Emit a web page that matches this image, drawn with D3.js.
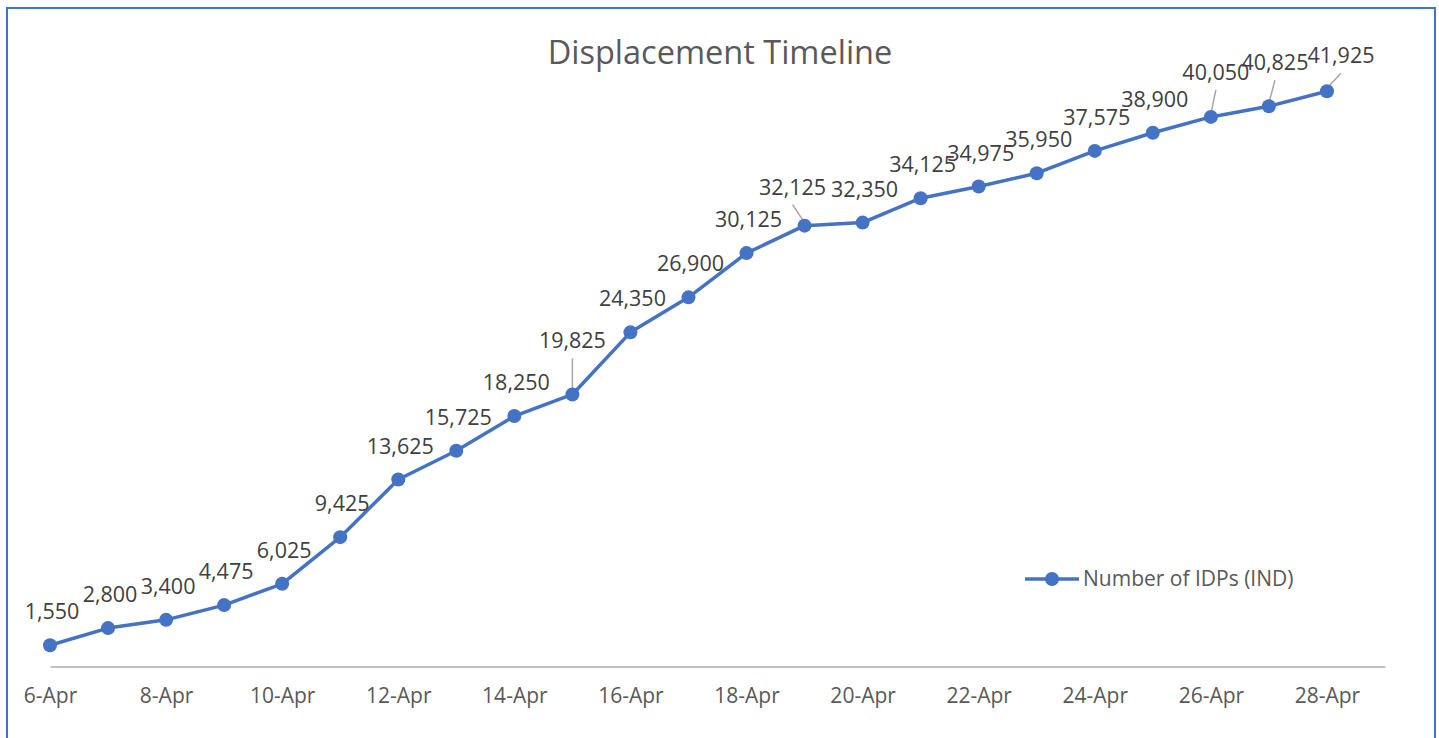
<!DOCTYPE html>
<html>
<head>
<meta charset="utf-8">
<title>Displacement Timeline</title>
<script src="https://d3js.org/d3.v7.min.js"></script>
<style>
body{margin:0; background:#fff;}
svg{display:block; font-family:"Open Sans", sans-serif;}
</style>
</head>
<body>
<script>
// data
var days = ["6-Apr","7-Apr","8-Apr","9-Apr","10-Apr","11-Apr","12-Apr","13-Apr","14-Apr","15-Apr","16-Apr","17-Apr",
            "18-Apr","19-Apr","20-Apr","21-Apr","22-Apr","23-Apr","24-Apr","25-Apr","26-Apr","27-Apr","28-Apr"];
var idps = [1550,2800,3400,4475,6025,9425,13625,15725,18250,19825,24350,26900,
            30125,32125,32350,34125,34975,35950,37575,38900,40050,40825,41925];
var tickLabels = ["6-Apr","8-Apr","10-Apr","12-Apr","14-Apr","16-Apr","18-Apr","20-Apr","22-Apr","24-Apr","26-Apr","28-Apr"];
var seriesName = "Number of IDPs (IND)";

// labels that were dragged away from their point (index: [dx, dy])
var moved = {9:[0,-53], 13:[-12,-38], 20:[5,-44], 21:[6,-43], 22:[14,-35]};

var width = 1439, height = 738;
var blue = "#4472C4";

var svg = d3.select("body").append("svg").attr("width", width).attr("height", height);

// chart border
svg.append("rect").attr("x",7).attr("y",8).attr("width",1428).attr("height",760)
  .attr("fill","none").attr("stroke",blue).attr("stroke-width",2);

var parse = d3.timeParse("%d-%b-%Y");
var dates = days.map(function(d){ return parse(d+"-2020"); });

var x = d3.scaleTime()
  .domain([dates[0], d3.timeDay.offset(dates[dates.length-1], 1)])
  .range([50, 1385]);
var y = d3.scaleLinear().domain([0, 45000]).range([666.5, 49]);

// title
svg.append("text").attr("x",720).attr("y",64).attr("text-anchor","middle")
  .attr("font-size",32.5).attr("fill","#595959").text("Displacement Timeline");

// x axis
var tickDates = tickLabels.map(function(d){ return parse(d+"-2020"); });
var xAxis = svg.append("g").attr("transform","translate(0,666.5)")
  .call(d3.axisBottom(x).tickValues(tickDates).tickSize(0).tickPadding(22)
    .tickFormat(d3.timeFormat("%-d-%b")));
xAxis.select(".domain").attr("stroke","#BFBFBF").attr("stroke-width",2);
xAxis.selectAll("text").attr("font-size",21).attr("fill","#595959")
  .attr("font-family","Open Sans, sans-serif");

// line
var pts = idps.map(function(v,i){ return {date:dates[i], value:v, i:i}; });
var line = d3.line().x(function(d){ return x(d.date); }).y(function(d){ return y(d.value); });
svg.append("path").datum(pts).attr("d",line)
  .attr("fill","none").attr("stroke",blue).attr("stroke-width",3.5).attr("stroke-linejoin","round");

// leader lines
pts.forEach(function(d){
  var m = moved[d.i];
  if(!m) return;
  var px = x(d.date), py = y(d.value);
  var lx = px + m[0], ly = py + m[1] + 17;
  svg.append("line").attr("x1",lx).attr("y1",ly).attr("x2",px).attr("y2",py-3)
    .attr("stroke","#A6A6A6").attr("stroke-width",1.5);
});

svg.append("g").selectAll("circle").data(pts).enter().append("circle")
  .attr("cx",function(d){ return x(d.date); }).attr("cy",function(d){ return y(d.value); })
  .attr("r",7).attr("fill",blue);

// data labels
svg.append("g").selectAll("text").data(pts).enter().append("text")
  .attr("x",function(d){ var m = moved[d.i]; return x(d.date) + (m ? m[0] : 2); })
  .attr("y",function(d){ var m = moved[d.i]; return y(d.value) + (m ? m[1] : -33) + 7; })
  .attr("text-anchor","middle").attr("font-size",21.5).attr("fill","#404040")
  .text(function(d){ return d3.format(",")(d.value); });

// legend
var lg = svg.append("g").attr("transform","translate(1025,579)");
lg.append("line").attr("x1",0).attr("x2",54).attr("stroke",blue).attr("stroke-width",3.5);
lg.append("circle").attr("cx",27).attr("r",7).attr("fill",blue);
lg.append("text").attr("x",58).attr("y",7).attr("font-size",21).attr("fill","#595959").text(seriesName);
</script>
</body>
</html>
